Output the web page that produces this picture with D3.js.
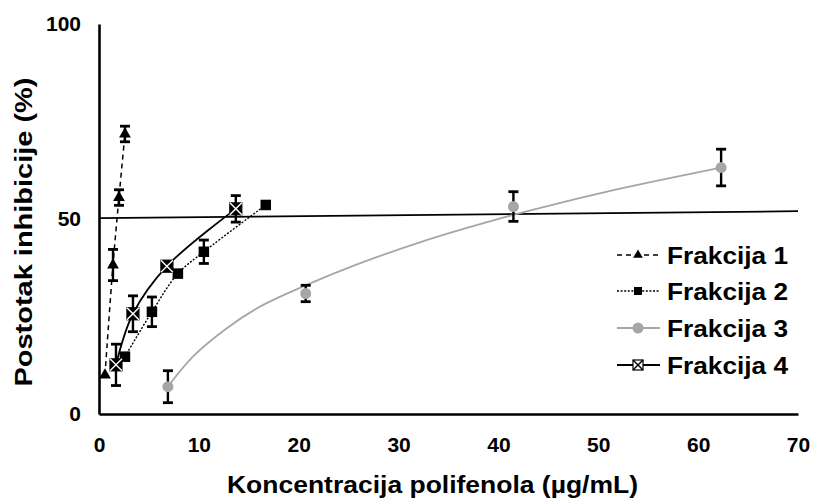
<!DOCTYPE html>
<html>
<head>
<meta charset="utf-8">
<script src="https://cdn.jsdelivr.net/npm/d3@7/dist/d3.min.js"></script>
<style>
  html, body { margin: 0; padding: 0; background: #fff; }
  svg { display: block; }
  text { font-family: "Liberation Sans", Arial, sans-serif; font-weight: bold; fill: #000; }
</style>
</head>
<body>
<svg id="chart" width="813" height="498"></svg>
<script>
// ---- data ----
const seriesNames = ["Frakcija 1", "Frakcija 2", "Frakcija 3", "Frakcija 4"];

const f1X = [0.6, 1.4, 2.0, 2.6];
const f1Y = [10.0, 38.2, 55.5, 71.8];
const f1Err = [0, 4.0, 2.0, 2.0];

const f2X = [2.6, 5.3, 7.9, 10.5, 16.7];
const f2Y = [14.7, 26.2, 36.0, 41.6, 53.6];
const f2Err = [0.8, 3.8, 0.8, 3.0, 0];

const f3X = [6.9, 20.7, 41.5, 62.3];
const f3Y = [7.0, 30.9, 53.2, 63.2];
const f3Err = [4.1, 2.1, 3.8, 4.7];
// trend curve of Frakcija 3 as traced on the picture
const f3TrendX = [6.9, 9.4, 12.8, 16.1, 20.8, 26.1, 32.8, 39.4, 44.1, 51.3, 62.3];
const f3TrendY = [7.0, 14.7, 22.0, 27.5, 33.1, 38.6, 44.6, 49.6, 52.8, 57.3, 63.2];

const f4X = [1.7, 3.4, 6.8, 13.7];
const f4Y = [12.6, 25.7, 37.9, 52.6];
const f4Err = [5.3, 4.6, 0.5, 3.4];

const refX = [0, 70];
const refY = [50.2, 52.0];

const xTicks = [0, 10, 20, 30, 40, 50, 60, 70];
const yTicks = [0, 50, 100];

const xTitle = "Koncentracija polifenola (µg/mL)";
const yTitle = "Postotak inhibicije (%)";

// ---- drawing ----
const svg = d3.select("#chart");
const x = d3.scaleLinear().domain([0, 70]).range([99, 798]);
const y = d3.scaleLinear().domain([0, 100]).range([414, 24]);

const zip = (xs, ys) => xs.map((v, i) => ({ x: v, y: ys[i] }));
const zipE = (xs, ys, es) => xs.map((v, i) => ({ x: v, y: ys[i], e: es[i] }));

const line = d3.line().x(d => x(d.x)).y(d => y(d.y));
const smooth = d3.line().x(d => x(d.x)).y(d => y(d.y)).curve(d3.curveCatmullRom.alpha(0.5));

// axes
const xAxis = d3.axisBottom(x).tickValues(xTicks).tickSize(0).tickSizeOuter(0).tickPadding(23);
const gx = svg.append("g").attr("transform", `translate(0,${y(0)})`).call(xAxis);
gx.select(".domain").attr("stroke", "#000").attr("stroke-width", 2.6);
gx.selectAll("text").attr("font-size", 21).attr("font-family", '"Liberation Sans", Arial, sans-serif').attr("font-weight", "bold");

const yAxis = d3.axisLeft(y).tickValues(yTicks).tickSize(0).tickSizeOuter(0).tickPadding(18);
const gy = svg.append("g").attr("transform", `translate(${x(0)},0)`).call(yAxis);
gy.select(".domain").attr("stroke", "#000").attr("stroke-width", 2.6);
gy.selectAll("text").attr("font-size", 21).attr("font-family", '"Liberation Sans", Arial, sans-serif').attr("font-weight", "bold");

// titles
svg.append("text").attr("x", 227).attr("y", 493).attr("font-size", 23)
  .attr("textLength", 411).attr("lengthAdjust", "spacingAndGlyphs").text(xTitle);
svg.append("text").attr("transform", "translate(32,232) rotate(-90)").attr("text-anchor", "middle")
  .attr("font-size", 24).attr("textLength", 309).attr("lengthAdjust", "spacingAndGlyphs").text(yTitle);

// reference 50% line
svg.append("path").datum(zip(refX, refY)).attr("d", line)
  .attr("fill", "none").attr("stroke", "#000").attr("stroke-width", 1.8);

// series lines
const styles = [
  { stroke: "#000", width: 1.5, dash: "5,4" },
  { stroke: "#000", width: 1.4, dash: "2,1.6" },
  { stroke: "#a6a6a6", width: 1.8, dash: null },
  { stroke: "#000", width: 1.8, dash: null }
];
const curves = [zip(f1X, f1Y), zip(f2X, f2Y), zip(f3TrendX, f3TrendY), zip(f4X, f4Y)];
curves.forEach((c, i) => {
  svg.append("path").datum(c).attr("d", smooth).attr("fill", "none")
    .attr("stroke", styles[i].stroke).attr("stroke-width", styles[i].width)
    .attr("stroke-dasharray", styles[i].dash);
});

// error bars
const allPts = [zipE(f1X, f1Y, f1Err), zipE(f2X, f2Y, f2Err), zipE(f3X, f3Y, f3Err), zipE(f4X, f4Y, f4Err)];
const eg = svg.append("g").attr("stroke", "#000").attr("stroke-width", 2.4);
allPts.forEach(pts => {
  pts.filter(d => d.e > 0).forEach(d => {
    const cx = x(d.x), y1 = y(d.y + d.e), y2 = y(d.y - d.e);
    eg.append("line").attr("x1", cx).attr("x2", cx).attr("y1", y1).attr("y2", y2);
    eg.append("line").attr("x1", cx - 5).attr("x2", cx + 5).attr("y1", y1).attr("y2", y1).attr("stroke-width", 2.8);
    eg.append("line").attr("x1", cx - 5).attr("x2", cx + 5).attr("y1", y2).attr("y2", y2).attr("stroke-width", 2.8);
  });
});

// markers
function marker(g, type, cx, cy, s, legend) {
  if (type === 0) {
    g.append("path").attr("d", d3.symbol(d3.symbolTriangle, s * s * 0.5)())
      .attr("transform", `translate(${cx},${cy})`).attr("fill", "#000");
  } else if (type === 1) {
    g.append("rect").attr("x", cx - s / 2).attr("y", cy - s / 2).attr("width", s).attr("height", s).attr("fill", "#000");
  } else if (type === 2) {
    g.append("circle").attr("cx", cx).attr("cy", cy).attr("r", s / 2).attr("fill", "#a6a6a6");
  } else {
    const h = s / 2;
    g.append("rect").attr("x", cx - h).attr("y", cy - h).attr("width", s).attr("height", s)
      .attr("fill", legend ? "#fff" : "#000").attr("stroke", "#000").attr("stroke-width", 1.2);
    const col = legend ? "#000" : "#fff";
    g.append("line").attr("x1", cx - h).attr("y1", cy - h).attr("x2", cx + h).attr("y2", cy + h).attr("stroke", col).attr("stroke-width", 1.4);
    g.append("line").attr("x1", cx - h).attr("y1", cy + h).attr("x2", cx + h).attr("y2", cy - h).attr("stroke", col).attr("stroke-width", 1.4);
  }
}
const mg = svg.append("g");
const msize = [11, 10.5, 11, 12];
allPts.forEach((pts, i) => pts.forEach(d => marker(mg, i, x(d.x), y(d.y), msize[i], false)));

// legend
const legY = [255, 291, 328, 365];
const lg = svg.append("g");
seriesNames.forEach((name, i) => {
  const yy = legY[i];
  lg.append("line").attr("x1", 617).attr("x2", 660).attr("y1", yy).attr("y2", yy)
    .attr("stroke", styles[i].stroke).attr("stroke-width", styles[i].width)
    .attr("stroke-dasharray", styles[i].dash);
  marker(lg, i, 638, yy, [9, 8, 11, 10][i], true);
  lg.append("text").attr("x", 667).attr("y", yy + 8.5).attr("font-size", 23)
    .attr("textLength", 121).attr("lengthAdjust", "spacingAndGlyphs").text(name);
});
</script>
</body>
</html>
